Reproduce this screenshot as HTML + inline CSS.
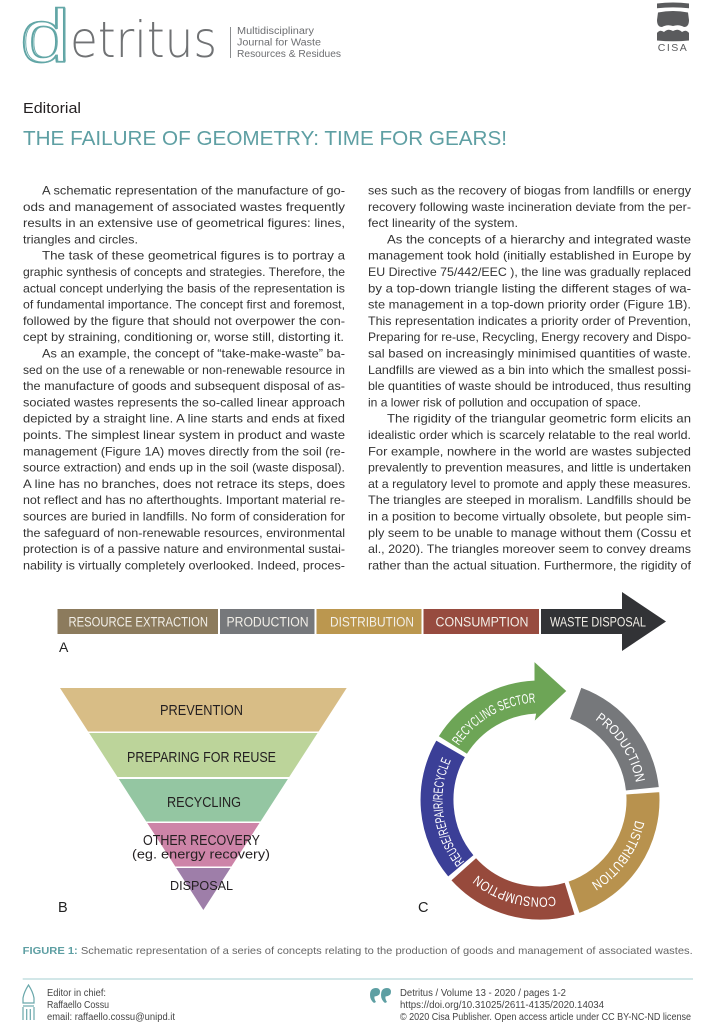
<!DOCTYPE html>
<html><head><meta charset="utf-8"><style>
html,body{margin:0;padding:0;background:#fff;}
svg{display:block;}
.b{font-family:"Liberation Sans",Arial,sans-serif;font-size:11.8px;fill:#333;}
</style></head><body>
<svg xmlns="http://www.w3.org/2000/svg" width="709" height="1024" viewBox="0 0 709 1024" font-family="Liberation Sans, Arial, sans-serif">
<rect width="709" height="1024" fill="#fff"/>
<!-- header logo -->
<text x="20" y="62" font-size="75" fill="none" stroke="#5fa4a4" stroke-width="1.6" textLength="50" lengthAdjust="spacingAndGlyphs">d</text>
<text x="22" y="61" font-size="73" fill="none" stroke="#6aacac" stroke-width="0.8" textLength="49" lengthAdjust="spacingAndGlyphs">d</text>
<text x="70" y="57" font-size="50" font-family="DejaVu Sans, Liberation Sans, sans-serif" font-weight="200" fill="#707274" textLength="147" lengthAdjust="spacingAndGlyphs">etritus</text>
<line x1="230.5" y1="27" x2="230.5" y2="58" stroke="#8a8c8e" stroke-width="1"/>
<g font-size="10" fill="#6d6e71">
<text x="237" y="34" textLength="77" lengthAdjust="spacingAndGlyphs">Multidisciplinary</text>
<text x="237" y="45.5" textLength="84" lengthAdjust="spacingAndGlyphs">Journal for Waste</text>
<text x="237" y="57" textLength="104" lengthAdjust="spacingAndGlyphs">Resources &amp; Residues</text>
</g>
<!-- CISA logo -->
<g fill="#5a5b5d">
<path d="M657,3.5 Q673,1.5 689,3.5 L689,8.3 Q673,6.5 657,8.3 Z"/>
<path d="M658,12.5 Q673,9.5 688,12.5 L689,20 Q689,27 684,27 Q679,24 673,26 Q667,24 662,27 Q657,27 657,20 Z"/>
<path d="M657,40.5 L657,33 Q660,29 664,32 Q668,28 673,31 Q678,28 682,32 Q686,29 689,33 L689,40.5 Q673,42 657,40.5 Z"/>
<text x="673" y="51" font-size="10.5" text-anchor="middle" letter-spacing="1.5">CISA</text>
</g>
<!-- titles -->
<text x="23" y="113" font-size="15" fill="#231f20" textLength="58" lengthAdjust="spacingAndGlyphs">Editorial</text>
<text x="23" y="145" font-size="20.6" fill="#5e9fa3" textLength="484" lengthAdjust="spacingAndGlyphs">THE FAILURE OF GEOMETRY: TIME FOR GEARS!</text>
<!-- body left -->
<g class="b">
<text x="42" y="194.5" textLength="303" lengthAdjust="spacingAndGlyphs">A schematic representation of the manufacture of go-</text>
<text x="23" y="210.8" textLength="322" lengthAdjust="spacingAndGlyphs">ods and management of associated wastes frequently</text>
<text x="23" y="227.1" textLength="322" lengthAdjust="spacingAndGlyphs">results in an extensive use of geometrical figures: lines,</text>
<text x="23" y="243.4" textLength="115" lengthAdjust="spacingAndGlyphs">triangles and circles.</text>
<text x="42" y="259.7" textLength="303" lengthAdjust="spacingAndGlyphs">The task of these geometrical figures is to portray a</text>
<text x="23" y="276.0" textLength="322" lengthAdjust="spacingAndGlyphs">graphic synthesis of concepts and strategies. Therefore, the</text>
<text x="23" y="292.3" textLength="322" lengthAdjust="spacingAndGlyphs">actual concept underlying the basis of the representation is</text>
<text x="23" y="308.6" textLength="322" lengthAdjust="spacingAndGlyphs">of fundamental importance. The concept first and foremost,</text>
<text x="23" y="324.9" textLength="322" lengthAdjust="spacingAndGlyphs">followed by the figure that should not overpower the con-</text>
<text x="23" y="341.2" textLength="321" lengthAdjust="spacingAndGlyphs">cept by straining, conditioning or, worse still, distorting it.</text>
<text x="42" y="357.5" textLength="303" lengthAdjust="spacingAndGlyphs">As an example, the concept of “take-make-waste” ba-</text>
<text x="23" y="373.8" textLength="322" lengthAdjust="spacingAndGlyphs">sed on the use of a renewable or non-renewable resource in</text>
<text x="23" y="390.1" textLength="322" lengthAdjust="spacingAndGlyphs">the manufacture of goods and subsequent disposal of as-</text>
<text x="23" y="406.4" textLength="322" lengthAdjust="spacingAndGlyphs">sociated wastes represents the so-called linear approach</text>
<text x="23" y="422.7" textLength="322" lengthAdjust="spacingAndGlyphs">depicted by a straight line. A line starts and ends at fixed</text>
<text x="23" y="439.0" textLength="322" lengthAdjust="spacingAndGlyphs">points. The simplest linear system in product and waste</text>
<text x="23" y="455.3" textLength="322" lengthAdjust="spacingAndGlyphs">management (Figure 1A) moves directly from the soil (re-</text>
<text x="23" y="471.6" textLength="322" lengthAdjust="spacingAndGlyphs">source extraction) and ends up in the soil (waste disposal).</text>
<text x="23" y="487.9" textLength="322" lengthAdjust="spacingAndGlyphs">A line has no branches, does not retrace its steps, does</text>
<text x="23" y="504.2" textLength="322" lengthAdjust="spacingAndGlyphs">not reflect and has no afterthoughts. Important material re-</text>
<text x="23" y="520.5" textLength="322" lengthAdjust="spacingAndGlyphs">sources are buried in landfills. No form of consideration for</text>
<text x="23" y="536.8" textLength="322" lengthAdjust="spacingAndGlyphs">the safeguard of non-renewable resources, environmental</text>
<text x="23" y="553.1" textLength="322" lengthAdjust="spacingAndGlyphs">protection is of a passive nature and environmental sustai-</text>
<text x="23" y="569.4" textLength="322" lengthAdjust="spacingAndGlyphs">nability is virtually completely overlooked. Indeed, proces-</text>
</g>
<!-- body right -->
<g class="b">
<text x="368" y="194.5" textLength="323" lengthAdjust="spacingAndGlyphs">ses such as the recovery of biogas from landfills or energy</text>
<text x="368" y="210.8" textLength="323" lengthAdjust="spacingAndGlyphs">recovery following waste incineration deviate from the per-</text>
<text x="368" y="227.1" textLength="150" lengthAdjust="spacingAndGlyphs">fect linearity of the system.</text>
<text x="387" y="243.4" textLength="304" lengthAdjust="spacingAndGlyphs">As the concepts of a hierarchy and integrated waste</text>
<text x="368" y="259.7" textLength="323" lengthAdjust="spacingAndGlyphs">management took hold (initially established in Europe by</text>
<text x="368" y="276.0" textLength="323" lengthAdjust="spacingAndGlyphs">EU Directive 75/442/EEC ), the line was gradually replaced</text>
<text x="368" y="292.3" textLength="323" lengthAdjust="spacingAndGlyphs">by a top-down triangle listing the different stages of wa-</text>
<text x="368" y="308.6" textLength="323" lengthAdjust="spacingAndGlyphs">ste management in a top-down priority order (Figure 1B).</text>
<text x="368" y="324.9" textLength="323" lengthAdjust="spacingAndGlyphs">This representation indicates a priority order of Prevention,</text>
<text x="368" y="341.2" textLength="323" lengthAdjust="spacingAndGlyphs">Preparing for re-use, Recycling, Energy recovery and Dispo-</text>
<text x="368" y="357.5" textLength="323" lengthAdjust="spacingAndGlyphs">sal based on increasingly minimised quantities of waste.</text>
<text x="368" y="373.8" textLength="323" lengthAdjust="spacingAndGlyphs">Landfills are viewed as a bin into which the smallest possi-</text>
<text x="368" y="390.1" textLength="323" lengthAdjust="spacingAndGlyphs">ble quantities of waste should be introduced, thus resulting</text>
<text x="368" y="406.4" textLength="273" lengthAdjust="spacingAndGlyphs">in a lower risk of pollution and occupation of space.</text>
<text x="387" y="422.7" textLength="304" lengthAdjust="spacingAndGlyphs">The rigidity of the triangular geometric form elicits an</text>
<text x="368" y="439.0" textLength="323" lengthAdjust="spacingAndGlyphs">idealistic order which is scarcely relatable to the real world.</text>
<text x="368" y="455.3" textLength="323" lengthAdjust="spacingAndGlyphs">For example, nowhere in the world are wastes subjected</text>
<text x="368" y="471.6" textLength="323" lengthAdjust="spacingAndGlyphs">prevalently to prevention measures, and little is undertaken</text>
<text x="368" y="487.9" textLength="323" lengthAdjust="spacingAndGlyphs">at a regulatory level to promote and apply these measures.</text>
<text x="368" y="504.2" textLength="323" lengthAdjust="spacingAndGlyphs">The triangles are steeped in moralism. Landfills should be</text>
<text x="368" y="520.5" textLength="323" lengthAdjust="spacingAndGlyphs">in a position to become virtually obsolete, but people sim-</text>
<text x="368" y="536.8" textLength="323" lengthAdjust="spacingAndGlyphs">ply seem to be unable to manage without them (Cossu et</text>
<text x="368" y="553.1" textLength="323" lengthAdjust="spacingAndGlyphs">al., 2020). The triangles moreover seem to convey dreams</text>
<text x="368" y="569.4" textLength="323" lengthAdjust="spacingAndGlyphs">rather than the actual situation. Furthermore, the rigidity of</text>
</g>
<!-- Figure A -->
<rect x="57.5" y="609" width="160.5" height="25" fill="#8c7b5d"/>
<rect x="220" y="609" width="94.5" height="25" fill="#76787b"/>
<rect x="316.5" y="609" width="105" height="25" fill="#bb974f"/>
<rect x="423.5" y="609" width="115.5" height="25" fill="#974b3f"/>
<polygon points="541,609 622,609 622,592 666,621.5 622,651 622,634 541,634" fill="#323336"/>
<g font-size="13.5" fill="#f2efe8">
<text x="68.5" y="626.5" textLength="139.5" lengthAdjust="spacingAndGlyphs">RESOURCE EXTRACTION</text>
<text x="226.5" y="626.5" textLength="82" lengthAdjust="spacingAndGlyphs">PRODUCTION</text>
<text x="330" y="626.5" textLength="84" lengthAdjust="spacingAndGlyphs">DISTRIBUTION</text>
<text x="435.5" y="626.5" textLength="93" lengthAdjust="spacingAndGlyphs">CONSUMPTION</text>
<text x="550" y="626.5" textLength="96" lengthAdjust="spacingAndGlyphs">WASTE DISPOSAL</text>
</g>
<text x="59" y="652" font-size="14" fill="#222">A</text>
<!-- Figure B -->
<polygon points="60,688 346.7,688 318.6,731.5 88.1,731.5" fill="#d8bd86"/>
<polygon points="89.1,733 317.6,733 289.2,777 117.5,777" fill="#bcd49a"/>
<polygon points="118.8,779 287.9,779 260.5,821.5 146.2,821.5" fill="#94c6a2"/>
<polygon points="147.2,823 259.5,823 231.4,866.5 175.3,866.5" fill="#cd84a8"/>
<polygon points="176.2,868 230.5,868 203.35,910" fill="#9e7ea9"/>
<g font-size="14.5" fill="#231f20">
<text x="160" y="715" textLength="83" lengthAdjust="spacingAndGlyphs">PREVENTION</text>
<text x="127" y="762" textLength="149" lengthAdjust="spacingAndGlyphs">PREPARING FOR REUSE</text>
<text x="167" y="807" textLength="74" lengthAdjust="spacingAndGlyphs">RECYCLING</text>
<text x="143" y="845" textLength="117" lengthAdjust="spacingAndGlyphs">OTHER RECOVERY</text>
<text x="132" y="858.5" font-size="13" textLength="138" lengthAdjust="spacingAndGlyphs">(eg. energy recovery)</text>
<text x="170" y="890" font-size="13" textLength="63" lengthAdjust="spacingAndGlyphs">DISPOSAL</text>
</g>
<text x="58" y="912" font-size="14.5" fill="#222">B</text>
<!-- Figure C -->
<g stroke="#fff" stroke-width="1">
<path d="M581.0,687.2 A120,120 0 0 1 659.3,787.5 L625.5,791.0 A86,86 0 0 0 569.4,719.2 Z" fill="#76787b"/>
<path d="M659.7,791.6 A120,120 0 0 1 579.1,913.5 L568.0,881.3 A86,86 0 0 0 625.8,794.0 Z" fill="#b8924e"/>
<path d="M575.1,914.8 A120,120 0 0 1 450.8,880.3 L476.1,857.5 A86,86 0 0 0 565.1,882.2 Z" fill="#974a3c"/>
<path d="M448.1,877.1 A120,120 0 0 1 436.1,740.0 L465.5,757.0 A86,86 0 0 0 474.1,855.3 Z" fill="#3b3f97"/>
<path d="M438.2,736.4 A120,120 0 0 1 534,680.1 L534,661 L567,691 L534,722 L535.5,714.1 A86,86 0 0 0 467.1,754.4 Z" fill="#6da556"/>
</g>
<path id="ring" d="M540,702.5 A97.5,97.5 0 1 1 540,897.5 A97.5,97.5 0 1 1 540,702.5" fill="none"/>
<g font-size="13.5" fill="#fff" text-anchor="middle">
<text><textPath href="#ring" startOffset="97" textLength="77" lengthAdjust="spacingAndGlyphs">PRODUCTION</textPath></text>
<text><textPath href="#ring" startOffset="212.7" textLength="79" lengthAdjust="spacingAndGlyphs">DISTRIBUTION</textPath></text>
<text><textPath href="#ring" startOffset="331.8" textLength="83" lengthAdjust="spacingAndGlyphs">CONSUMPTION</textPath></text>
<text><textPath href="#ring" startOffset="445.8" textLength="108" lengthAdjust="spacingAndGlyphs">REUSE/REPAIR/RECYCLE</textPath></text>
<text><textPath href="#ring" startOffset="561.5" textLength="91" lengthAdjust="spacingAndGlyphs">RECYCLING SECTOR</textPath></text>
</g>
<text x="418" y="912" font-size="14.5" fill="#222">C</text>
<!-- caption -->
<text x="22.7" y="954" font-size="10.5" fill="#666" textLength="670" lengthAdjust="spacingAndGlyphs"><tspan fill="#5e9fa3" font-weight="bold">FIGURE 1:</tspan> Schematic representation of a series of concepts relating to the production of goods and management of associated wastes.</text>
<line x1="22.7" y1="979" x2="693" y2="979" stroke="#a5cfd2" stroke-width="1"/>
<!-- footer icons -->
<g fill="none" stroke="#6aa8ab" stroke-width="1.2">
<path d="M23,1003 L23,998 Q24,992 28.5,985 Q33,992 34,998 L34,1003 Z"/>
<line x1="23" y1="1006" x2="34" y2="1006"/>
<line x1="23" y1="1007" x2="23" y2="1020"/>
<line x1="26.7" y1="1009" x2="26.7" y2="1020"/>
<line x1="30.3" y1="1009" x2="30.3" y2="1020"/>
<line x1="34" y1="1007" x2="34" y2="1020"/>
</g>
<g fill="#5e9fa3">
<path d="M376,988 Q370,988 370,995 Q370,1000 374,1003 L376,1002 Q374,999 374.5,996.5 Q380,996 380,992 Q380,988 376,988 Z"/>
<path d="M387,988 Q381,988 381,995 Q381,1000 385,1003 L387,1002 Q385,999 385.5,996.5 Q391,996 391,992 Q391,988 387,988 Z"/>
</g>
<g font-size="10" fill="#444">
<text x="47" y="996" textLength="59" lengthAdjust="spacingAndGlyphs">Editor in chief:</text>
<text x="47" y="1008" textLength="62" lengthAdjust="spacingAndGlyphs">Raffaello Cossu</text>
<text x="47" y="1020" textLength="128" lengthAdjust="spacingAndGlyphs">email: raffaello.cossu@unipd.it</text>
<text x="400" y="996" textLength="166" lengthAdjust="spacingAndGlyphs">Detritus / Volume 13 - 2020 / pages 1-2</text>
<text x="400" y="1008" textLength="204" lengthAdjust="spacingAndGlyphs">https://doi.org/10.31025/2611-4135/2020.14034</text>
<text x="400" y="1020" textLength="291" lengthAdjust="spacingAndGlyphs">© 2020 Cisa Publisher. Open access article under CC BY-NC-ND license</text>
</g>
</svg>
</body></html>
